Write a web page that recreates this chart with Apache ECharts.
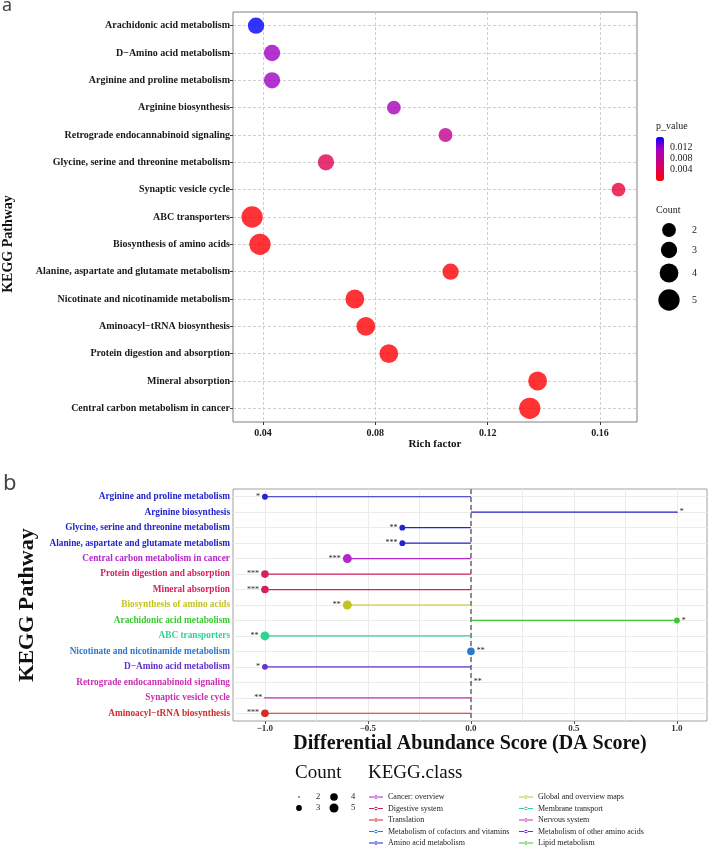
<!DOCTYPE html>
<html lang="en">
<head>
<meta charset="UTF-8">
<title>KEGG enrichment and DA score</title>
<script src="https://cdn.jsdelivr.net/npm/echarts@6/dist/echarts.min.js"></script>
<style>
  html, body { margin: 0; padding: 0; background: #fff; }
  #main { width: 708px; height: 847px; }
</style>
</head>
<body>
<div id="main"></div>
<script type="text/javascript">
// ---- panel a: enrichment bubbles ----
var topPathways = [
    'Arachidonic acid metabolism',
    'D\u2212Amino acid metabolism',
    'Arginine and proline metabolism',
    'Arginine biosynthesis',
    'Retrograde endocannabinoid signaling',
    'Glycine, serine and threonine metabolism',
    'Synaptic vesicle cycle',
    'ABC transporters',
    'Biosynthesis of amino acids',
    'Alanine, aspartate and glutamate metabolism',
    'Nicotinate and nicotinamide metabolism',
    'Aminoacyl\u2212tRNA biosynthesis',
    'Protein digestion and absorption',
    'Mineral absorption',
    'Central carbon metabolism in cancer'
];
var topRich = [0.0375, 0.0432, 0.0432, 0.0866, 0.105, 0.0624, 0.1666, 0.0361, 0.0389, 0.1068, 0.0727, 0.0766, 0.0848, 0.1378, 0.135];
var topCount = [3, 3, 3, 2, 2, 3, 2, 5, 5, 3, 4, 4, 4, 4, 5];
var topPvalue = [0.0155, 0.0112, 0.0112, 0.0106, 0.0079, 0.0040, 0.0028, 0.0004, 0.0005, 0.0003, 0.0003, 0.0002, 0.0002, 0.0002, 0.0001];
var richTicks = [0.04, 0.08, 0.12, 0.16];
var pvalueTicks = [0.012, 0.008, 0.004];
var countKeys = [2, 3, 4, 5];

// ---- panel b: differential abundance ----
var daPathways = [
    'Arginine and proline metabolism',
    'Arginine biosynthesis',
    'Glycine, serine and threonine metabolism',
    'Alanine, aspartate and glutamate metabolism',
    'Central carbon metabolism in cancer',
    'Protein digestion and absorption',
    'Mineral absorption',
    'Biosynthesis of amino acids',
    'Arachidonic acid metabolism',
    'ABC transporters',
    'Nicotinate and nicotinamide metabolism',
    'D\u2212Amino acid metabolism',
    'Retrograde endocannabinoid signaling',
    'Synaptic vesicle cycle',
    'Aminoacyl\u2212tRNA biosynthesis'
];
var daScore = [-1, 1, -0.333, -0.333, -0.6, -1, -1, -0.6, 1, -1, 0, -1, 0, -1, -1];
var daCount = [3, 2, 3, 3, 5, 4, 4, 5, 3, 5, 4, 3, 2, 2, 4];
var daStars = ['*', '*', '**', '***', '***', '***', '***', '**', '*', '**', '**', '*', '**', '**', '***'];
var daClass = [
    'Amino acid metabolism', 'Amino acid metabolism', 'Amino acid metabolism', 'Amino acid metabolism',
    'Cancer: overview', 'Digestive system', 'Digestive system', 'Global and overview maps',
    'Lipid metabolism', 'Membrane transport', 'Metabolism of cofactors and vitamins',
    'Metabolism of other amino acids', 'Nervous system', 'Nervous system', 'Translation'
];
var daTicks = [-1, -0.5, 0, 0.5, 1];
var daGridLines = [-1, -0.75, -0.5, -0.25, 0, 0.25, 0.5, 0.75, 1];

var classNames = [
    'Cancer: overview', 'Digestive system', 'Translation', 'Metabolism of cofactors and vitamins', 'Amino acid metabolism',
    'Global and overview maps', 'Membrane transport', 'Nervous system', 'Metabolism of other amino acids', 'Lipid metabolism'
];
var classColors = [
    '#B425CC', '#D4205C', '#D42A2A', '#2E78CC', '#2424CC',
    '#C4C421', '#2ED492', '#CC2EB4', '#6432CC', '#3CC832'
];

var SERIF = '"Liberation Serif", "Times New Roman", serif';
var pMin = Math.min.apply(null, topPvalue);
var pMax = Math.max.apply(null, topPvalue);

function topSize(c) { return 8.8 + 2.5 * c; }
function daSize(c) { return 1.5 + 7.5 * Math.sqrt((c - 2) / 3); }
function classColor(name) { return classColors[classNames.indexOf(name)]; }
function fmtDa(v) { return (v < 0 ? '\u2212' : '') + Math.abs(v).toFixed(1); }

var myChart = echarts.init(document.getElementById('main'), null, { renderer: 'canvas' });

var series = [];

// bubbles (seriesIndex 0, coloured by visualMap)
series.push({
    type: 'scatter',
    xAxisIndex: 0, yAxisIndex: 0,
    z: 10,
    symbolSize: function (v) { return topSize(v[2]); },
    data: topPathways.map(function (p, i) { return [topRich[i], p, topCount[i], topPvalue[i]]; })
});

// grid lines of panel a
series.push({
    type: 'line', xAxisIndex: 0, yAxisIndex: 0, data: [], z: 1, silent: true,
    markLine: {
        silent: true, animation: false, symbol: ['none', 'none'],
        label: { show: false },
        lineStyle: { color: '#c4c4c4', width: 0.8, type: [3, 2] },
        data: topPathways.map(function (p) { return { yAxis: p }; })
            .concat(richTicks.map(function (v) { return { xAxis: v }; }))
    }
});

// grid lines + zero line of panel b
series.push({
    type: 'line', xAxisIndex: 1, yAxisIndex: 1, data: [], z: 1, silent: true,
    markLine: {
        silent: true, animation: false, symbol: ['none', 'none'],
        label: { show: false },
        lineStyle: { color: '#ebebeb', width: 1, type: 'solid' },
        data: daPathways.map(function (p) { return { yAxis: p }; })
            .concat(daGridLines.map(function (v) { return { xAxis: v }; }))
            .concat([{ xAxis: 0, lineStyle: { color: '#8c8c8c', width: 2, type: [5, 3] } }])
    }
});

// lollipops per KEGG class
classNames.forEach(function (name, k) {
    series.push({
        name: name, type: 'bar', xAxisIndex: 1, yAxisIndex: 1,
        barWidth: 1.2, barGap: '-100%', z: 8, silent: true,
        itemStyle: { color: classColors[k] },
        data: daPathways.map(function (p, i) { return daClass[i] === name ? daScore[i] : '-'; })
    });
    var pts = [];
    daPathways.forEach(function (p, i) {
        if (daClass[i] !== name) return;
        pts.push({
            name: daStars[i],
            value: [daScore[i], p, daCount[i]],
            label: { position: daScore[i] < 0 ? 'left' : 'right' }
        });
    });
    series.push({
        name: name, type: 'scatter', xAxisIndex: 1, yAxisIndex: 1, z: 10, silent: true,
        itemStyle: { color: classColors[k], opacity: 1 },
        symbolSize: function (v) { return daSize(v[2]); },
        label: { show: true, formatter: '{b}', distance: 2, fontSize: 8, color: '#222', fontFamily: SERIF },
        data: pts
    });
});

// legend glyphs / texts
var graphics = [
    { type: 'text', x: 2, y: -3, style: { text: 'a', font: '18px "Noto Sans", sans-serif', fill: '#444' } },
    { type: 'text', x: 3, y: 473, style: { text: 'b', font: '22px "Noto Sans", sans-serif', fill: '#444' } },
    { type: 'text', x: 8, y: 244, rotation: Math.PI / 2,
      style: { text: 'KEGG Pathway', font: 'bold 14px ' + SERIF, fill: '#111', textAlign: 'center', textVerticalAlign: 'middle' } },
    { type: 'text', x: 656, y: 126, style: { text: 'p_value', font: '10px ' + SERIF, fill: '#222', textVerticalAlign: 'middle' } },
    { type: 'text', x: 656, y: 210, style: { text: 'Count', font: '10px ' + SERIF, fill: '#222', textVerticalAlign: 'middle' } },
    { type: 'text', x: 295, y: 773, style: { text: 'Count', font: '19px ' + SERIF, fill: '#111', textVerticalAlign: 'middle' } },
    { type: 'text', x: 368, y: 773, style: { text: 'KEGG.class', font: '19px ' + SERIF, fill: '#111', textVerticalAlign: 'middle' } }
];
pvalueTicks.forEach(function (v) {
    graphics.push({ type: 'text', x: 670, y: 137 + (pMax - v) / (pMax - pMin) * 44,
        style: { text: v.toFixed(3), font: '10px ' + SERIF, fill: '#222', textVerticalAlign: 'middle' } });
});
var topKeyY = [230, 250, 273, 300];
countKeys.forEach(function (c, i) {
    graphics.push({ type: 'circle', shape: { cx: 669, cy: topKeyY[i], r: topSize(c) / 2 }, style: { fill: '#000' } });
    graphics.push({ type: 'text', x: 692, y: topKeyY[i], style: { text: String(c), font: '10px ' + SERIF, fill: '#222', textVerticalAlign: 'middle' } });
});
countKeys.forEach(function (c, i) {
    var cx = i < 2 ? 299 : 334;
    var cy = i % 2 === 0 ? 797 : 808;
    graphics.push({ type: 'circle', shape: { cx: cx, cy: cy, r: daSize(c) / 2 }, style: { fill: '#000' } });
    graphics.push({ type: 'text', x: cx + 17, y: cy, style: { text: String(c), font: '8.5px ' + SERIF, fill: '#222', textVerticalAlign: 'middle' } });
});

var legendIcon = 'path://M0,1.2L14,1.2L14,2.4L0,2.4Z M5.2,1.8A1.8,1.8,0,1,0,8.8,1.8A1.8,1.8,0,1,0,5.2,1.8Z';
function classLegend(names, left) {
    return {
        orient: 'vertical', left: left, top: 792, height: 90, padding: 0,
        itemWidth: 14, itemHeight: 3.6, itemGap: 1.5,
        icon: legendIcon, selectedMode: false,
        data: names,
        textStyle: { fontSize: 8, lineHeight: 10, color: '#222', fontFamily: SERIF }
    };
}

var option = {
    animation: false,
    backgroundColor: '#fff',
    grid: [
        { left: 233, top: 12, width: 404, height: 410, show: true, borderColor: '#7f7f7f', borderWidth: 1, backgroundColor: '#fff' },
        { left: 233, top: 489, width: 474, height: 232, show: true, borderColor: '#a0a0a0', borderWidth: 1, backgroundColor: '#fff' }
    ],
    xAxis: [
        {
            type: 'value', gridIndex: 0, min: 0.0293, max: 0.1732,
            axisLine: { show: false }, splitLine: { show: false },
            axisTick: { show: true, length: 3, customValues: richTicks, lineStyle: { color: '#333' } },
            axisLabel: { customValues: richTicks, margin: 6, fontSize: 10, fontWeight: 'bold', color: '#1a1a1a', fontFamily: SERIF,
                formatter: function (v) { return v.toFixed(2); } },
            name: 'Rich factor', nameLocation: 'middle', nameGap: 17,
            nameTextStyle: { fontSize: 11, fontWeight: 'bold', color: '#111', fontFamily: SERIF }
        },
        {
            type: 'value', gridIndex: 1, min: -1.155, max: 1.146,
            axisLine: { show: false }, splitLine: { show: false },
            axisTick: { show: true, length: 3, customValues: daTicks, lineStyle: { color: '#555' } },
            axisLabel: { customValues: daTicks, margin: 3, fontSize: 9, fontWeight: 'bold', color: '#333', fontFamily: SERIF, formatter: fmtDa },
            name: 'Differential Abundance Score (DA Score)', nameLocation: 'middle', nameGap: 12,
            nameTextStyle: { fontSize: 20, fontWeight: 'bold', color: '#111', fontFamily: SERIF }
        }
    ],
    yAxis: [
        {
            type: 'category', gridIndex: 0, data: topPathways, inverse: true,
            axisLine: { show: false }, splitLine: { show: false },
            axisTick: { show: true, alignWithLabel: true, length: 3, lineStyle: { color: '#333' } },
            axisLabel: { interval: 0, margin: 3, fontSize: 10, fontWeight: 'bold', color: '#1a1a1a', fontFamily: SERIF }
        },
        {
            type: 'category', gridIndex: 1, data: daPathways, inverse: true,
            axisLine: { show: false }, splitLine: { show: false },
            axisTick: { show: true, alignWithLabel: true, length: 3, lineStyle: { color: '#555' } },
            axisLabel: { interval: 0, margin: 3, fontSize: 9.3, fontWeight: 'bold', fontFamily: SERIF,
                color: function (v, i) { return classColor(daClass[i]); } },
            name: 'KEGG Pathway', nameLocation: 'middle', nameRotate: 90, nameGap: 192,
            nameTextStyle: { fontSize: 22, fontWeight: 'bold', color: '#111', fontFamily: SERIF }
        }
    ],
    visualMap: {
        type: 'continuous', seriesIndex: 0, dimension: 3,
        min: pMin, max: pMax, left: 656, top: 137, padding: 0,
        itemWidth: 8, itemHeight: 44, calculable: false, hoverLink: false,
        inRange: { color: ['#FF0000', '#E1004F', '#C2008F', '#9B00C9', '#0000FF'] }
    },
    legend: [classLegend(classNames.slice(0, 5), 369), classLegend(classNames.slice(5), 519)],
    graphic: graphics,
    series: series
};

myChart.setOption(option);
</script>
</body>
</html>
